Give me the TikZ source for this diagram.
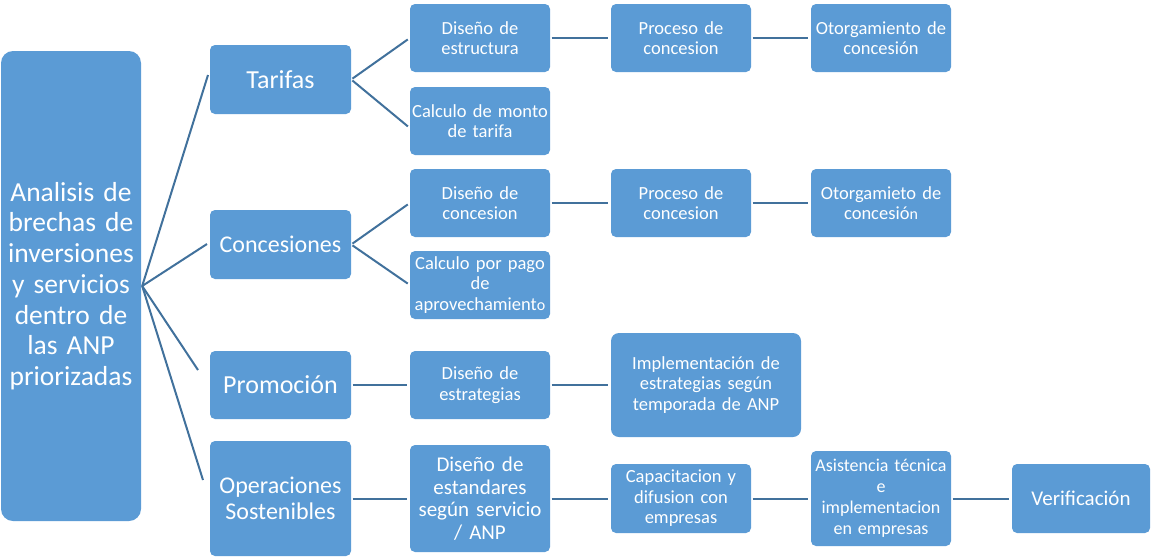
\documentclass[tikz,border=0pt]{standalone}
\usepackage{fontspec}
\setmainfont{Carlito}
\definecolor{boxblue}{HTML}{5B9BD5}
\definecolor{lineblue}{HTML}{41719C}
\tikzset{
  box/.style={fill=boxblue, text=white, rounded corners=5pt, inner sep=0pt, align=center},
  rootbox/.style={box, rounded corners=12pt},
  conn/.style={draw=lineblue, line width=2pt},
  hconn/.style={conn, shorten <=1.5pt, shorten >=2.5pt},
  fsmall/.style={font=\fontsize{18.5}{20.5}\selectfont},
  fmid/.style={font=\fontsize{21}{22.7}\selectfont},
  fbig/.style={font=\fontsize{26}{28}\selectfont},
  fbigb/.style={font=\fontsize{24}{26}\selectfont},
  froot/.style={font=\fontsize{27.5}{30.7}\selectfont}
}
\begin{document}
\begin{tikzpicture}[x=1pt,y=-1pt]
\useasboundingbox (0,0) rectangle (1151,557);
% root
\node[rootbox, froot, minimum width=140, minimum height=470, text width=136] (root) at (71,286)
  {Analisis de\\brechas de\\inversiones\\y servicios\\dentro de\\las ANP\\priorizadas};
% level 1
\node[box, fbig, minimum width=141, minimum height=69, text width=137] (tar) at (280.5,79.5) {Tarifas};
\node[box, fbigb, minimum width=141, minimum height=69, text width=137] (con) at (280.5,244.5) {Concesiones};
\node[box, fbig, minimum width=141, minimum height=68, text width=137] (pro) at (280.5,385) {Promoción};
\node[box, fbigb, minimum width=141, minimum height=115, text width=137] (ope) at (280.5,498.5) {Operaciones\\Sostenibles};
% level 2
\node[box, fsmall, minimum width=140, minimum height=68, text width=136] (dest) at (480,38) {Diseño de\\estructura};
\node[box, fsmall, minimum width=140, minimum height=68, text width=136] (cmon) at (480,121) {Calculo de monto\\de tarifa};
\node[box, fsmall, minimum width=140, minimum height=68, text width=136] (dcon) at (480,203) {Diseño de\\concesion};
\node[box, fsmall, minimum width=140, minimum height=68, text width=136] (cpag) at (480,285) {Calculo por pago\\de\\aprovechamient{\fontsize{16}{20.5}\selectfont o}};
\node[box, fsmall, minimum width=140, minimum height=68, text width=136] (destr) at (480,385) {Diseño de\\estrategias};
\node[box, fmid, minimum width=140, minimum height=107, text width=136] (dstd) at (480,498.5) {Diseño de\\estandares\\según servicio\\/ ANP};
% level 3
\node[box, fsmall, minimum width=140, minimum height=68, text width=136] (proc1) at (681,38) {Proceso de\\concesion};
\node[box, fsmall, minimum width=140, minimum height=68, text width=136] (proc2) at (681,203) {Proceso de\\concesion};
\node[box, fsmall, rounded corners=8pt, minimum width=190, minimum height=104, text width=186] (impl) at (706,385) {Implementación de\\estrategias según\\temporada de ANP};
\node[box, fsmall, minimum width=140, minimum height=69, text width=136] (capa) at (681,498.5) {Capacitacion y\\difusion con\\empresas};
% level 4
\node[box, fsmall, minimum width=140, minimum height=68, text width=136] (oto1) at (881,38) {Otorgamiento de\\concesión};
\node[box, fsmall, minimum width=140, minimum height=68, text width=136] (oto2) at (881,203) {Otorgamieto de\\concesió{\fontsize{16}{20.5}\selectfont n}};
\node[box, font=\fontsize{18}{21}\selectfont, minimum width=140, minimum height=95, text width=138] (asis) at (881,498.5) {Asistencia técnica\\e\\implementacion\\en empresas};
% level 5
\node[box, fmid, minimum width=138, minimum height=69, text width=134] (veri) at (1081,498.5) {Verificación};
% root connector ends
\coordinate (eT) at (208,75);
\coordinate (eC) at (207,244);
\coordinate (eP) at (198,370);
\coordinate (eO) at (203,480);
\draw[conn] ([xshift=1pt]root.east) -- (eT);
\draw[conn] ([xshift=1pt]root.east) -- (eC);
\draw[conn] ([xshift=1pt]root.east) -- (eP);
\draw[conn] ([xshift=1pt]root.east) -- (eO);
% level 1 -> 2
\draw[hconn] (tar.east) -- (dest.west);
\draw[hconn] (tar.east) -- ([yshift=-7pt]cmon.west);
\draw[hconn] (con.east) -- (dcon.west);
\draw[hconn] (con.east) -- (cpag.west);
\draw[hconn] (pro.east) -- (destr.west);
\draw[hconn] (ope.east) -- (dstd.west);
% further
\draw[hconn] (dest.east) -- (proc1.west);
\draw[hconn] (proc1.east) -- (oto1.west);
\draw[hconn] (dcon.east) -- (proc2.west);
\draw[hconn] (proc2.east) -- (oto2.west);
\draw[hconn] (destr.east) -- (impl.west);
\draw[hconn] (dstd.east) -- (capa.west);
\draw[hconn] (capa.east) -- (asis.west);
\draw[hconn] (asis.east) -- (veri.west);
\end{tikzpicture}
\end{document}
